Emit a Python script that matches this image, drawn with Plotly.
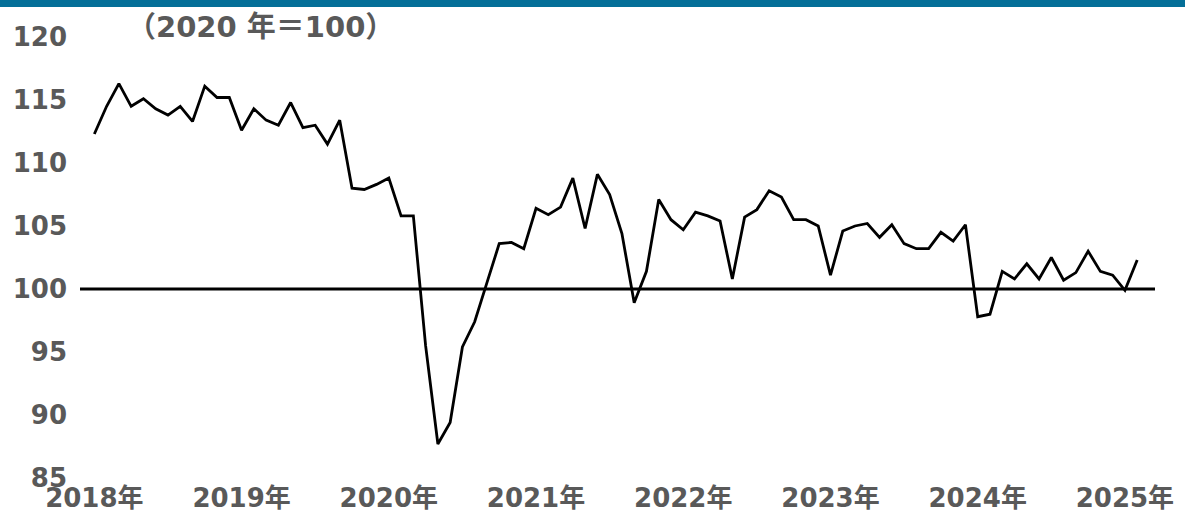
import plotly.graph_objects as go

# Monthly index values (2020 = 100), Jan 2018 .. Feb 2025
years = [2018, 2019, 2020, 2021, 2022, 2023, 2024, 2025]
v2018 = [112.3, 114.5, 116.3, 114.5, 115.1, 114.3, 113.8, 114.5, 113.3, 116.1, 115.2, 115.2]
v2019 = [112.6, 114.3, 113.4, 113.0, 114.8, 112.8, 113.0, 111.5, 113.4, 108.0, 107.9, 108.3]
v2020 = [108.8, 105.8, 105.8, 95.5, 87.7, 89.4, 95.4, 97.4, 100.5, 103.6, 103.7, 103.2]
v2021 = [106.4, 105.9, 106.5, 108.8, 104.8, 109.1, 107.5, 104.4, 98.9, 101.4, 107.1, 105.5]
v2022 = [104.7, 106.1, 105.8, 105.4, 100.8, 105.7, 106.3, 107.8, 107.3, 105.5, 105.5, 105.0]
v2023 = [101.1, 104.6, 105.0, 105.2, 104.1, 105.1, 103.6, 103.2, 103.2, 104.5, 103.8, 105.1]
v2024 = [97.8, 98.0, 101.4, 100.8, 102.0, 100.8, 102.5, 100.7, 101.3, 103.0, 101.4, 101.1]
v2025 = [99.9, 102.3]

series = [v2018, v2019, v2020, v2021, v2022, v2023, v2024, v2025]
months = []
values = []
for y, vals in zip(years, series):
    for m, v in enumerate(vals, start=1):
        months.append(f"{y}-{m:02d}")
        values.append(v)

tick_vals = [f"{y}-01" for y in years]
tick_text = [f"{y}年" for y in years]
y_ticks = [85, 90, 95, 100, 105, 110, 115, 120]
title_text = "（2020 年＝100）"

FONT = "DejaVu Sans, Noto Sans CJK JP, sans-serif"
GREY = "#595959"

fig = go.Figure()
fig.add_trace(go.Scatter(
    x=months, y=values, mode="lines",
    line=dict(color="black", width=2.8),
    hoverinfo="skip", showlegend=False,
))

fig.update_layout(
    width=1185, height=515,
    margin=dict(l=80, r=30, t=37, b=37, autoexpand=False),
    paper_bgcolor="white", plot_bgcolor="white",
    font=dict(family=FONT, color=GREY),
    xaxis=dict(
        type="category", range=[-1.17, 86.45], automargin=False,
        tickmode="array", tickvals=tick_vals, ticktext=tick_text,
        tickfont=dict(size=26, color=GREY, family=FONT, weight="bold"),
        showgrid=False, zeroline=False, showline=False, ticks="",
        ticklabelstandoff=2,
    ),
    yaxis=dict(
        range=[85, 120], tickmode="array", tickvals=y_ticks, automargin=False,
        tickfont=dict(size=26, color=GREY, family=FONT, weight="bold"),
        showgrid=False, zeroline=False, showline=False, ticks="",
        ticklabelstandoff=12,
    ),
    shapes=[
        dict(type="line", xref="paper", yref="y", x0=0, x1=1, y0=100, y1=100,
             line=dict(color="black", width=2.8), layer="below"),
        dict(type="rect", xref="paper", yref="paper",
             xsizemode="pixel", ysizemode="pixel", xanchor=0, yanchor=1,
             x0=-80, x1=1105, y0=30, y1=38,
             fillcolor="#046f98", line=dict(width=0)),
    ],
    annotations=[
        dict(text=title_text, xref="paper", yref="paper",
             x=(125 - 80) / 1075, y=1 + (37 - 27) / 441,
             xanchor="left", yanchor="middle", showarrow=False,
             font=dict(size=29, color=GREY, family=FONT, weight="bold")),
    ],
)

fig.write_html("out.html", config={"displayModeBar": False},
               post_script="document.body.style.margin='0';")
